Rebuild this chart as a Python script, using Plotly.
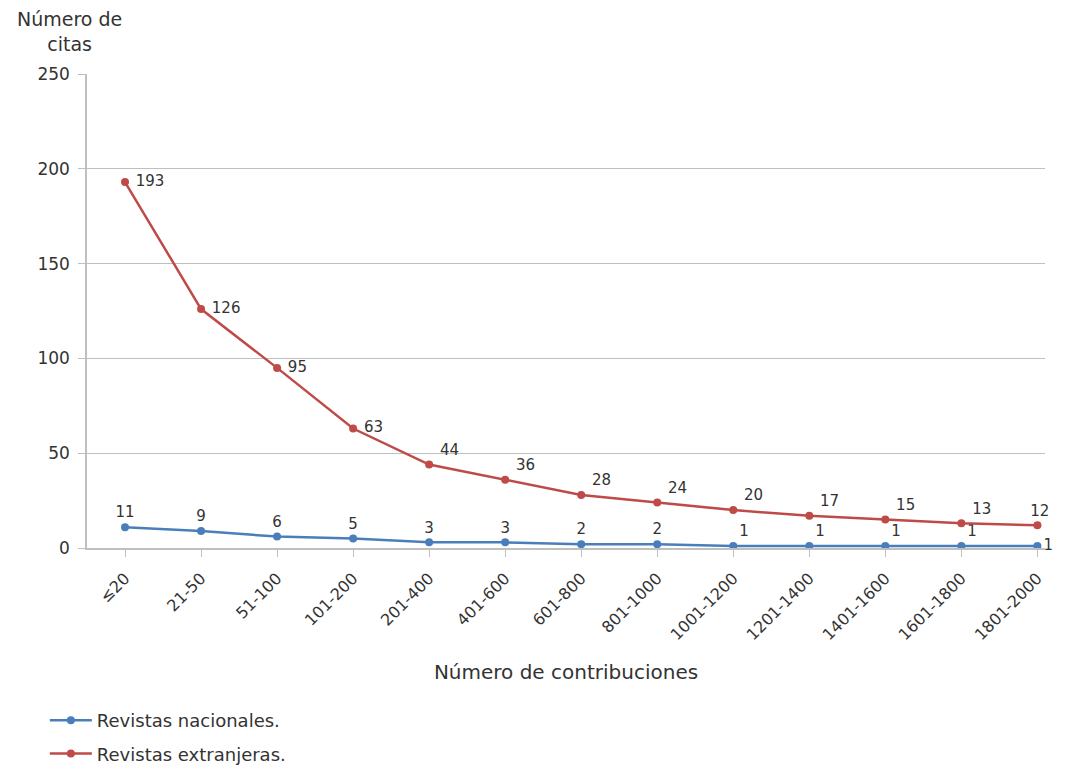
import plotly.graph_objects as go

categories = ["≤20", "21-50", "51-100", "101-200", "201-400", "401-600", "601-800",
              "801-1000", "1001-1200", "1201-1400", "1401-1600", "1601-1800", "1801-2000"]
nacionales = [11, 9, 6, 5, 3, 3, 2, 2, 1, 1, 1, 1, 1]
extranjeras = [193, 126, 95, 63, 44, 36, 28, 24, 20, 17, 15, 13, 12]

blue = "#4A7EBB"
red = "#BE4B48"
txt = "#333333"
font_family = "DejaVu Sans"

x = list(range(len(categories)))

nac_pos = ["top center"] * 8 + ["top right"] * 4 + ["middle right"]
ext_pos = ["middle right"] * 4 + ["top right"] * 8 + ["top center"]

fig = go.Figure()
fig.add_trace(go.Scatter(
    x=x, y=nacionales, mode="lines+markers+text", name="Revistas nacionales.",
    legendgroup="a",
    line=dict(color=blue, width=2.5), marker=dict(color=blue, size=8),
    text=[str(v) for v in nacionales], textposition=nac_pos,
    textfont=dict(size=15, color=txt, family=font_family), cliponaxis=False))
fig.add_trace(go.Scatter(
    x=x, y=extranjeras, mode="lines+markers+text", name="Revistas extranjeras.",
    legendgroup="b",
    line=dict(color=red, width=2.5), marker=dict(color=red, size=8),
    text=[" " + str(v) for v in extranjeras], textposition=ext_pos,
    textfont=dict(size=15, color=txt, family=font_family), cliponaxis=False))

fig.update_layout(
    width=1050, height=764,
    margin=dict(l=79, r=13, t=66, b=224),
    paper_bgcolor="white", plot_bgcolor="white",
    font=dict(family=font_family, size=15, color=txt),
    xaxis=dict(
        tickmode="array", tickvals=x, ticktext=categories, tickangle=-45,
        range=[-0.5, 12.1], showgrid=False, zeroline=False,
        showline=True, linecolor="#BFBFBF", linewidth=1.5,
        ticks="outside", tickson="boundaries", ticklen=7, tickcolor="#BFBFBF",
        tickfont=dict(size=16, color=txt), ticklabelstandoff=6,
        title=dict(text="Número de contribuciones", font=dict(size=20, color=txt), standoff=22),
    ),
    yaxis=dict(
        range=[0, 250], tickvals=[0, 50, 100, 150, 200, 250],
        showgrid=True, gridcolor="#BFBFBF", gridwidth=1.2, zeroline=False,
        showline=True, linecolor="#BFBFBF", linewidth=1.5,
        ticks="outside", ticklen=7, tickcolor="#BFBFBF",
        tickfont=dict(size=17, color=txt), ticklabelstandoff=5,
    ),
    legend=dict(
        x=-0.044, y=0.0, xref="paper", yref="container", xanchor="left", yanchor="bottom",
        orientation="v", font=dict(size=18, color=txt), bgcolor="rgba(0,0,0,0)",
        tracegroupgap=7, itemwidth=42,
    ),
    showlegend=True,
    annotations=[dict(
        text="Número de<br>citas", x=-0.018, y=1.089, xref="paper", yref="paper",
        xanchor="center", yanchor="middle",
        showarrow=False, font=dict(size=19, color=txt), align="center",
    )],
)

fig.write_html("out.html")
